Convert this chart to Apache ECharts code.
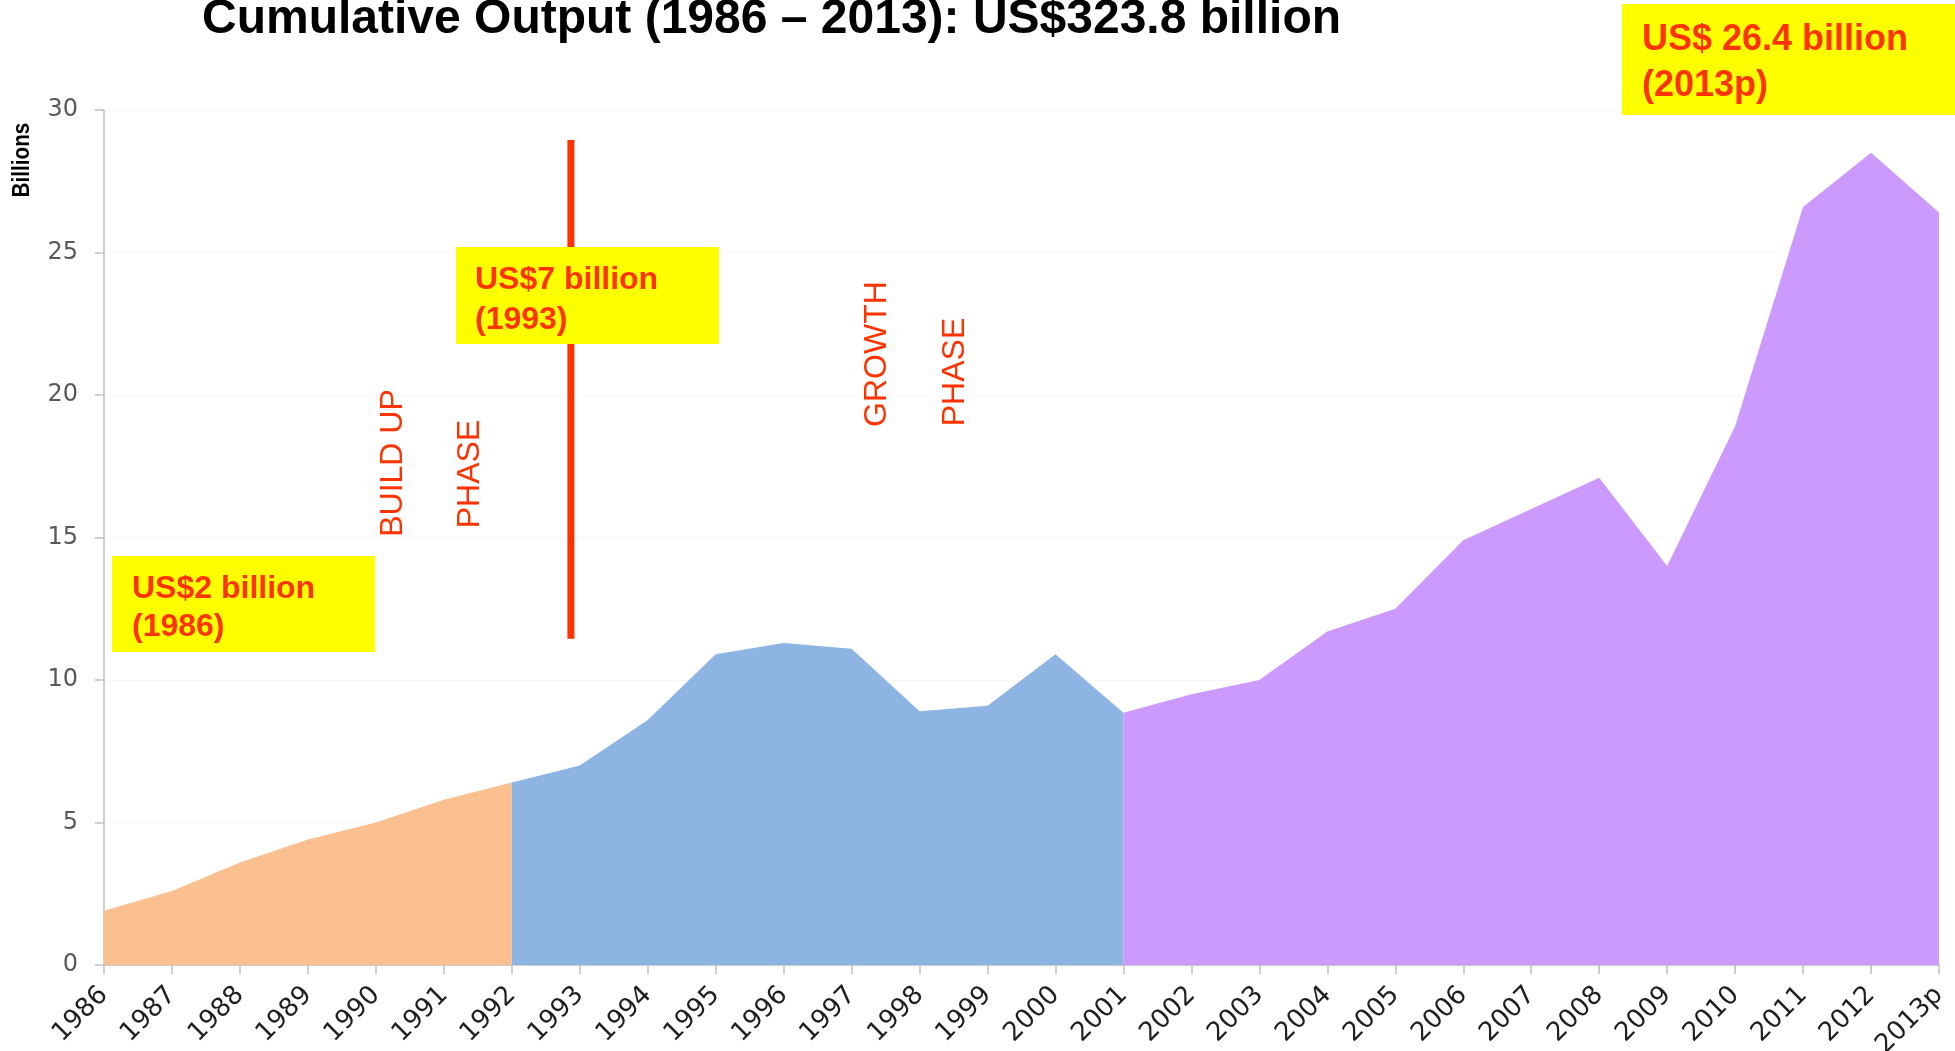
<!DOCTYPE html>
<html>
<head>
<meta charset="utf-8">
<title>Cumulative Output</title>
<script src="https://cdn.jsdelivr.net/npm/echarts@6/dist/echarts.min.js"></script>
<style>
  html, body { margin: 0; padding: 0; background: #fff; }
  #chart { width: 1955px; height: 1051px; }
</style>
</head>
<body>
<div id="chart"></div>
<script>
// categories
var years = ['1986', '1987', '1988', '1989', '1990', '1991', '1992', '1993', '1994', '1995',
  '1996', '1997', '1998', '1999', '2000', '2001', '2002', '2003', '2004', '2005', '2006',
  '2007', '2008', '2009', '2010', '2011', '2012', '2013p'];
// output in US$ billions, one array per phase (shared edge years repeated)
var buildUpValues = [1.9, 2.6, 3.6, 4.4, 5.0, 5.8, 6.4];                 // 1986 - 1992
var growthValues = [6.4, 7.0, 8.6, 10.9, 11.3, 11.1, 8.9, 9.1, 10.9, 8.85]; // 1992 - 2001
var recentValues = [8.85, 9.5, 10.0, 11.7, 12.5, 14.9, 16.0, 17.1, 14.0, 18.9, 26.6, 28.5, 26.4]; // 2001 - 2013p
var yTicks = [0, 5, 10, 15, 20, 25, 30];
// red divider, just left of the 1993 tick (position in years from 1986), from / to (billions)
var dividerPos = 6.87;
var dividerRange = [28.95, 11.45];

var RED = '#FF3300';

function place(values, startYear) {
  var start = years.indexOf(startYear);
  return years.map(function (y, i) {
    var k = i - start;
    return (k >= 0 && k < values.length) ? values[k] : null;
  });
}

var myChart = echarts.init(document.getElementById('chart'));

function areaSeries(name, data, color) {
  return {
    name: name,
    type: 'line',
    data: data,
    symbol: 'none',
    connectNulls: false,
    lineStyle: { width: 0, color: color },
    areaStyle: { color: color, opacity: 1 },
    z: 2
  };
}

var divider = {
  name: 'divider',
  type: 'line',
  xAxisIndex: 1,
  data: [[dividerPos, dividerRange[0]], [dividerPos, dividerRange[1]]],
  symbol: 'none',
  silent: true,
  lineStyle: { color: RED, width: 7 },
  z: 5
};

function yellowBox(x, y, w, h, tx, ty, text, size, lh) {
  return [
    { type: 'rect', shape: { x: x, y: y, width: w, height: h }, style: { fill: '#FFFF00' }, z: 10 },
    { type: 'text', x: tx, y: ty, z: 11,
      style: { text: text, fill: RED, font: 'bold ' + size + 'px "Liberation Sans", Arial, sans-serif',
        lineHeight: lh, align: 'left', verticalAlign: 'top' } }
  ];
}

function sideText(x, y, text) {
  return { type: 'text', x: x, y: y, rotation: Math.PI / 2, z: 11,
    style: { text: text, fill: RED, font: '32px "Liberation Sans", Arial, sans-serif',
      align: 'center', verticalAlign: 'middle' } };
}

var graphics = [
  { type: 'text', x: 202, y: 20, z: 11,
    style: { text: 'Cumulative Output (1986 \u2013 2013): US$323.8 billion', fill: '#000',
      font: 'bold 48px "Liberation Sans", Arial, sans-serif', verticalAlign: 'middle' } },
  { type: 'text', x: 23, y: 160, rotation: Math.PI / 2, scaleX: 0.9, z: 11,
    style: { text: 'Billions', fill: '#000',
      font: 'bold 23px "Liberation Sans Narrow", "Liberation Sans", Arial, sans-serif',
      align: 'center', verticalAlign: 'middle' } },
  sideText(393, 463, 'BUILD UP'),
  sideText(470, 474, 'PHASE'),
  sideText(877, 354, 'GROWTH'),
  sideText(955, 372, 'PHASE')
]
  .concat(yellowBox(112, 556, 263, 96, 132, 570, 'US$2 billion\n(1986)', 32, 38))
  .concat(yellowBox(456, 247, 263, 97, 475, 260, 'US$7 billion\n(1993)', 32, 40))
  .concat(yellowBox(1622, 4, 333, 111, 1642, 17, 'US$ 26.4 billion\n(2013p)', 36, 46));

myChart.setOption({
  animation: false,
  backgroundColor: '#fff',
  grid: { left: 104, right: 16, top: 110, bottom: 86, containLabel: false, outerBoundsMode: 'none' },
  xAxis: [{
    type: 'category',
    data: years,
    boundaryGap: false,
    axisLine: { show: true, lineStyle: { color: '#BFBFBF', width: 1.5 } },
    axisTick: { show: true, length: 9, alignWithLabel: true, lineStyle: { color: '#BFBFBF', width: 1.5 } },
    axisLabel: {
      rotate: 45, margin: 26, interval: 0,
      color: '#1f1f1f', fontSize: 26, fontFamily: '"DejaVu Sans", Verdana, sans-serif'
    },
    splitLine: { show: false }
  }, {
    // hidden helper axis for the divider (years from 1986)
    type: 'value',
    min: 0,
    max: years.length - 1,
    show: false
  }],
  yAxis: {
    type: 'value',
    min: yTicks[0],
    max: yTicks[yTicks.length - 1],
    interval: 5,
    axisLine: { show: true, lineStyle: { color: '#BFBFBF', width: 1.5 } },
    axisTick: { show: true, length: 9, lineStyle: { color: '#BFBFBF', width: 1.5 } },
    axisLabel: {
      margin: 26, color: '#595959', fontSize: 24, fontFamily: '"DejaVu Sans", Verdana, sans-serif'
    },
    splitLine: { show: true, lineStyle: { color: '#F7F7F7', width: 1 } }
  },
  series: [
    areaSeries('Build up', place(buildUpValues, '1986'), '#FAC090'),
    areaSeries('Growth', place(growthValues, '1992'), '#8EB4E3'),
    areaSeries('Recent', place(recentValues, '2001'), '#CC99FF'),
    divider
  ],
  graphic: graphics
});

window.addEventListener('resize', function () {
  myChart.resize();
});
</script>
</body>
</html>
